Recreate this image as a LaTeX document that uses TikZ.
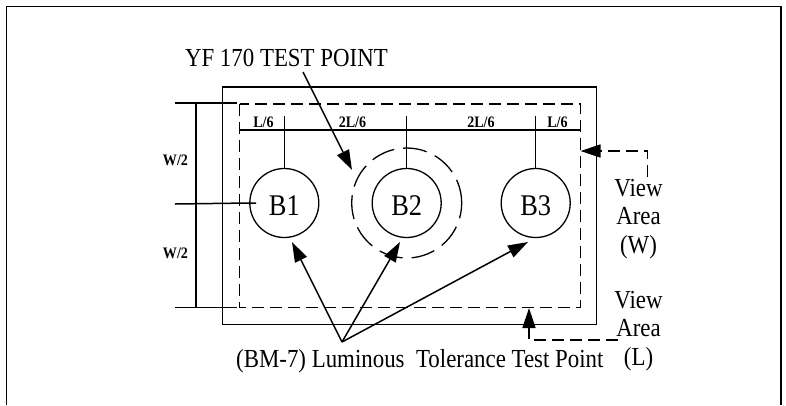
\documentclass[tikz,border=0pt]{standalone}
\usepackage{fontspec}
\setmainfont{Liberation Serif}[FakeStretch=0.88]
\usetikzlibrary{arrows.meta,calc}
\begin{document}
\begin{tikzpicture}[x=1pt,y=-1pt,
  ln/.style={line width=1.5pt},
  dsh/.style={line width=1.5pt, dash pattern=on 12pt off 6pt},
  tip/.style={-{Triangle[length=20pt,width=13pt]}},
  arr/.style={ln, tip},
  bubble/.style={circle, draw, line width=1.3pt, minimum size=69pt, inner sep=0pt,
    font=\fontsize{30}{30}\selectfont, text height=24pt, text depth=0pt},
  dimlbl/.style={anchor=base, inner sep=0pt, font=\fontsize{16}{16}\selectfont\bfseries},
  bigtxt/.style={inner sep=0pt, font=\fontsize{26}{28.5}\selectfont},
]
\useasboundingbox (0,0) rectangle (786,405);
% outer frame (open at bottom)
\draw[line width=1.5pt] (6.5,405) -- (6.5,6.5) -- (781,6.5) -- (781,405);
% panel outlines
\draw[ln] (222.5,87) rectangle (596.5,324.5);
\draw[dsh] (239.5,104) rectangle (580.5,307.5);
% horizontal dimension line
\draw[ln] (239.5,130) -- (580.5,130);
% bubbles
\node[bubble] (b1) at (284.3,203) {B1};
\node[bubble] (b2) at (406.7,203) {B2};
\node[bubble] (b3) at (535.7,203) {B3};
\node[circle, draw, line width=1.3pt, dash pattern=on 24pt off 9pt,
  minimum size=110pt, inner sep=0pt] (ring) at (b2) {};
% ticks
\draw[line width=1.3pt] (b1.north) -- ++(0,-51.5);
\draw[line width=1.3pt] (b2.north) -- ++(0,-51.5);
\draw[line width=1.3pt] (b3.north) -- ++(0,-51.5);
% dimension labels
\node[dimlbl] (l1) at (263.5,127) {L/6};
\node[dimlbl] (l2) at (352.5,127) {2L/6};
\node[dimlbl] (l3) at (481,127) {2L/6};
\node[dimlbl] (l4) at (557.5,127) {L/6};
% left dimension
\draw[ln] (196,103) -- (196,307.5);
\draw[ln] (175,103) -- (237,103);
\draw[ln] (175,307.5) -- (237,307.5);
\draw[ln] (175,204) -- (b1.west) -- ++(7,0);
\node[dimlbl] (w1) at (175.5,165) {W/2};
\node[dimlbl] (w2) at (175.5,258) {W/2};
% YF label and arrow
\node[bigtxt, anchor=base east] (yf) at (388,66) {YF 170 TEST POINT};
\coordinate (yfa) at (303,72);
\draw[arr] (yfa) -- ($(ring)+(-54.7,-33)$);
% view area labels (base anchor = last line's baseline)
\node[bigtxt, align=center, anchor=base] (vw) at (638.5,253) {View\\Area\\(W)};
\node[bigtxt, align=center, anchor=base] (vl) at (638.5,365) {View\\Area\\(L)};
\coordinate (vwa) at (647.5,177);
\coordinate (vwt) at (580.5,151);
\draw[dsh, tip] (vwa) |- (vwt);
\coordinate (vla) at (618,340);
\coordinate (vlt) at (529,308);
\draw[dsh, tip] (vla) -| (vlt);
% bottom label and arrows
\node[bigtxt, anchor=base west] (bm) at (236,367) {(BM-7) Luminous~~Tolerance Test Point};
\coordinate (src) at (342,342);
\draw[arr] (src) -- ($(b1)+(7.7,39)$);
\draw[arr] (src) -- ($(b2)+(-6.7,39)$);
\draw[arr] (src) -- ($(b3)+(-7.7,39)$);
\end{tikzpicture}
\end{document}
